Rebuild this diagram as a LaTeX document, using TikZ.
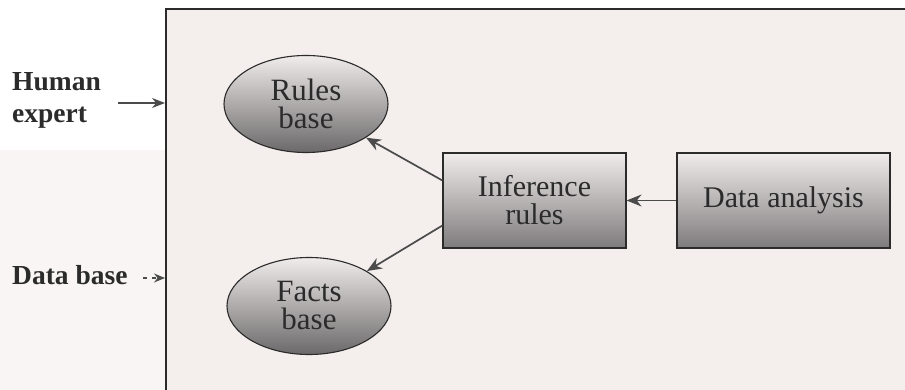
\documentclass[tikz,border=0pt]{standalone}
\usepackage{fontspec}
\setmainfont{Liberation Serif}
\usetikzlibrary{shapes.geometric,arrows.meta,calc}
\definecolor{paper}{HTML}{F4EEEC}
\definecolor{ink}{HTML}{2B2B2B}
\definecolor{shadetop}{HTML}{F0ECEC}
\definecolor{shadebot}{HTML}{7E7B7C}
\tikzset{
  boxnode/.style={draw=ink, line width=1.2pt, minimum width=183pt, minimum height=95pt,
    top color=shadetop, bottom color=shadebot, text=ink, align=center,
    font=\fontsize{30}{28}\selectfont, inner sep=0pt},
  ellnode/.style={ellipse, draw=ink, line width=1.1pt, minimum width=164pt, minimum height=97pt,
    top color=shadetop, bottom color=shadebot!85!black, text=ink, align=center,
    font=\fontsize{31}{28}\selectfont, inner sep=0pt},
  sidelabel/.style={text=ink, align=left, anchor=north west, inner sep=0pt,
    font=\fontsize{27.5}{32}\selectfont\bfseries},
  conn/.style={draw=ink!85, line width=1.7pt, -{Stealth[length=15pt,width=12pt]}},
  frame/.style={draw=ink, line width=1.4pt}
}
\begin{document}
\begin{tikzpicture}[x=1pt,y=-1pt]
\useasboundingbox (0,0) rectangle (905,390);
\fill[white] (0,0) rectangle (905,390);
\fill[paper] (166,9) rectangle (905,390);
\fill[paper!60] (0,150) rectangle (166,390);
% frame
\coordinate (ftr) at (905,9);
\coordinate (ftl) at (166,9);
\coordinate (fbl) at (166,390);
\draw[frame] (ftr) -- (ftl) -- (fbl);
% nodes
\node[ellnode] (rules) at (306,104) {Rules\\base};
\node[ellnode] (facts) at (309,306) {Facts\\base};
\node[boxnode] (inf) at (534.5,200.5) {Inference\\rules};
\node[boxnode, minimum width=213pt] (data) at (783.5,200.5) {Data analysis};
% side labels
\node[sidelabel] (human) at (12,72) {Human\\expert};
\node[sidelabel] (dbase) at (12,265) {Data base};
\coordinate (hin) at (165,103);
\coordinate (hout) at (118,103);
\coordinate (din) at (165,278);
\coordinate (dout) at (143,278);
\draw[conn, line width=1.5pt, -{Stealth[length=13pt,width=10pt]}] (hout) -- (hin);
\draw[conn, line width=1.5pt, dash pattern=on 4pt off 5pt, -{Stealth[length=11pt,width=9pt]}] (dout) -- (din);
% connectors
\coordinate (inA) at ([yshift=20pt]inf.west);
\coordinate (inB) at ([yshift=-25pt]inf.west);
\draw[conn] (data.west) -- (inf.east);
\draw[conn] (inA) -- (rules);
\draw[conn] (inB) -- (facts);
\end{tikzpicture}
\end{document}
